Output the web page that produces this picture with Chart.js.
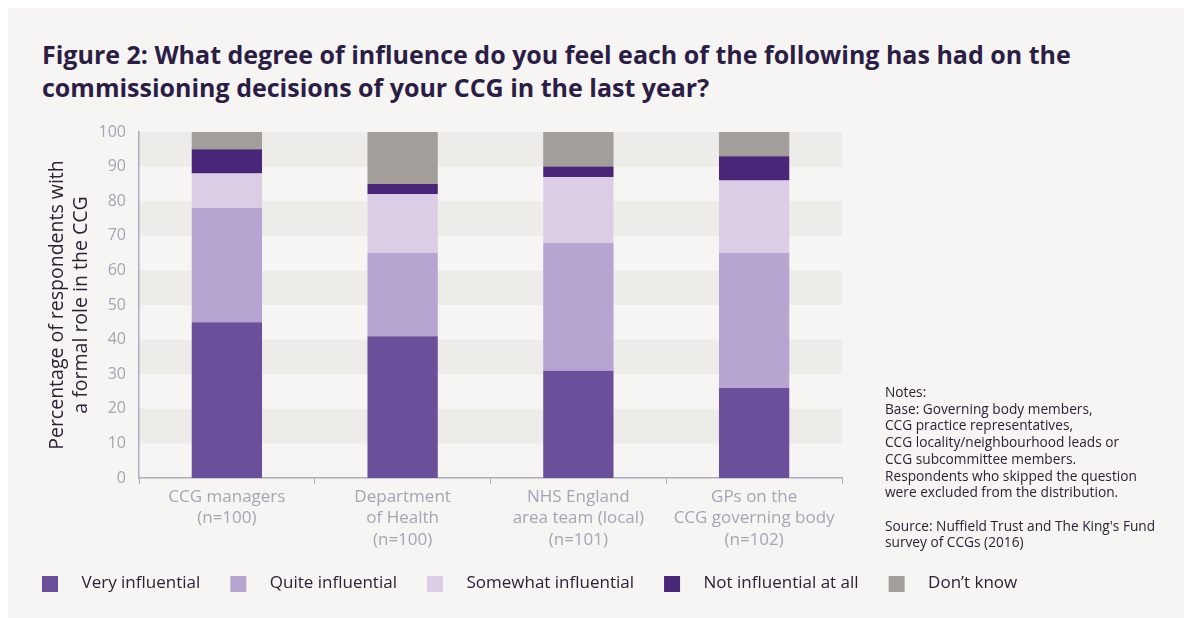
<!DOCTYPE html>
<html>
<head>
<meta charset="utf-8">
<script src="https://cdn.jsdelivr.net/npm/chart.js@4"></script>
<style>
  html, body { margin: 0; padding: 0; background: #fff; }
  body { width: 1184px; height: 618px; position: relative; overflow: hidden; font-family: 'Open Sans', sans-serif; }
  #panel { position: absolute; left: 8px; top: 8px; right: 0; bottom: 0; background: #f6f5f3; }
  #title { position: absolute; left: 42px; top: 38px; margin: 0; font: bold 25px/33px 'Open Sans', sans-serif; color: #2b1d45; white-space: nowrap; }
  #notes { position: absolute; left: 885px; top: 384px; font: 13.7px/16.7px 'Open Sans', sans-serif; color: #2b2238; white-space: nowrap; }
  #wrap { position: absolute; left: 8px; top: 8px; width: 1168px; height: 604px; }
</style>
</head>
<body>
<div id="panel"></div>
<h1 id="title">Figure 2: What degree of influence do you feel each of the following has had on the<br>commissioning decisions of your CCG in the last year?</h1>
<div id="wrap"><canvas id="chart"></canvas></div>
<div id="notes">Notes:<br>Base: Governing body members,<br>CCG practice representatives,<br>CCG locality/neighbourhood leads or<br>CCG subcommittee members.<br>Respondents who skipped the question<br>were excluded from the distribution.<br><br>Source: Nuffield Trust and The King's Fund<br>survey of CCGs (2016)</div>
<script>
  const categories = [
    ['CCG managers', '(n=100)'],
    ['Department', 'of Health', '(n=100)'],
    ['NHS England', 'area team (local)', '(n=101)'],
    ['GPs on the', 'CCG governing body', '(n=102)']
  ];
  const veryInfluential = [45, 41, 31, 26];
  const quiteInfluential = [33, 24, 37, 39];
  const somewhatInfluential = [10, 17, 19, 21];
  const notInfluential = [7, 3, 3, 7];
  const dontKnow = [5, 15, 10, 7];
  const yTicks = [0, 10, 20, 30, 40, 50, 60, 70, 80, 90, 100];

  const colors = ['#6a4f9b', '#b5a5d0', '#dbcde6', '#4a2679', '#a29e9a'];
  const axisColor = '#aeacbc';
  const tickColor = '#a6a4b5';
  const font = 'Open Sans';

  // legend swatch: 16px square placed inside a wider transparent box
  const swatches = colors.map(c => {
    const cv = document.createElement('canvas');
    cv.width = 37; cv.height = 16;
    const g = cv.getContext('2d');
    g.fillStyle = c;
    g.fillRect(6, 0, 16, 16);
    return cv;
  });

  const bands = {
    id: 'bands',
    beforeDraw(chart) {
      const {ctx, chartArea: a, scales: {y}} = chart;
      ctx.save();
      ctx.fillStyle = '#eeece8';
      for (let i = 1; i < yTicks.length - 1; i += 2) {
        const top = y.getPixelForValue(yTicks[i + 1]);
        const bot = y.getPixelForValue(yTicks[i]);
        ctx.fillRect(a.left, top, a.right - a.left, bot - top);
      }
      ctx.restore();
    }
  };

  new Chart(
    document.getElementById('chart'),
    {
      type: 'bar',
      data: {
        labels: categories,
        datasets: [
          { label: 'Very influential', data: veryInfluential, backgroundColor: colors[0] },
          { label: 'Quite influential', data: quiteInfluential, backgroundColor: colors[1] },
          { label: 'Somewhat influential', data: somewhatInfluential, backgroundColor: colors[2] },
          { label: 'Not influential at all', data: notInfluential, backgroundColor: colors[3] },
          { label: 'Don\u2019t know', data: dontKnow, backgroundColor: colors[4] }
        ]
      },
      options: {
        responsive: true,
        maintainAspectRatio: false,
        animation: false,
        layout: {
          padding: { left: 4, top: 124, right: 0, bottom: 10 }
        },
        datasets: {
          bar: { barPercentage: 0.4, categoryPercentage: 1 }
        },
        plugins: {
          tooltip: { enabled: false },
          legend: {
            position: 'bottom',
            align: 'start',
            labels: {
              usePointStyle: true,
              pointStyleWidth: 37,
              boxHeight: 16,
              padding: 24,
              color: '#2b2238',
              font: { family: font, size: 17 },
              generateLabels: chart =>
                Chart.defaults.plugins.legend.labels.generateLabels(chart)
                  .map((item, i) => ({ ...item, pointStyle: swatches[i] }))
            }
          }
        },
        scales: {
          x: {
            stacked: true,
            grid: { offset: true, drawOnChartArea: false, drawTicks: true, tickLength: 6, color: axisColor },
            border: { display: true, color: axisColor, width: 1.5 },
            ticks: {
              color: tickColor,
              padding: 3,
              maxRotation: 0,
              autoSkip: false,
              font: { family: font, size: 17, lineHeight: 1.24 }
            },
            afterFit: s => { s.height = 73; }
          },
          y: {
            stacked: true,
            min: 0,
            max: 100,
            grid: { display: false, drawTicks: false },
            border: { display: true, color: axisColor, width: 1.5 },
            ticks: {
              stepSize: 10,
              color: tickColor,
              padding: 13,
              font: { family: font, size: 16 }
            },
            title: {
              display: true,
              text: ['Percentage of respondents with', 'a formal role in the CCG'],
              color: '#2b2238',
              padding: { top: 34, bottom: 0 },
              font: { family: font, size: 19.5, lineHeight: 1.2 }
            },
            afterFit: s => { s.width = 127; }
          },
          side: {
            position: 'right',
            display: true,
            grid: { display: false },
            border: { display: false },
            ticks: { display: false },
            afterFit: s => { s.width = 334; }
          }
        }
      },
      plugins: [bands]
    }
  );
</script>
</body>
</html>
